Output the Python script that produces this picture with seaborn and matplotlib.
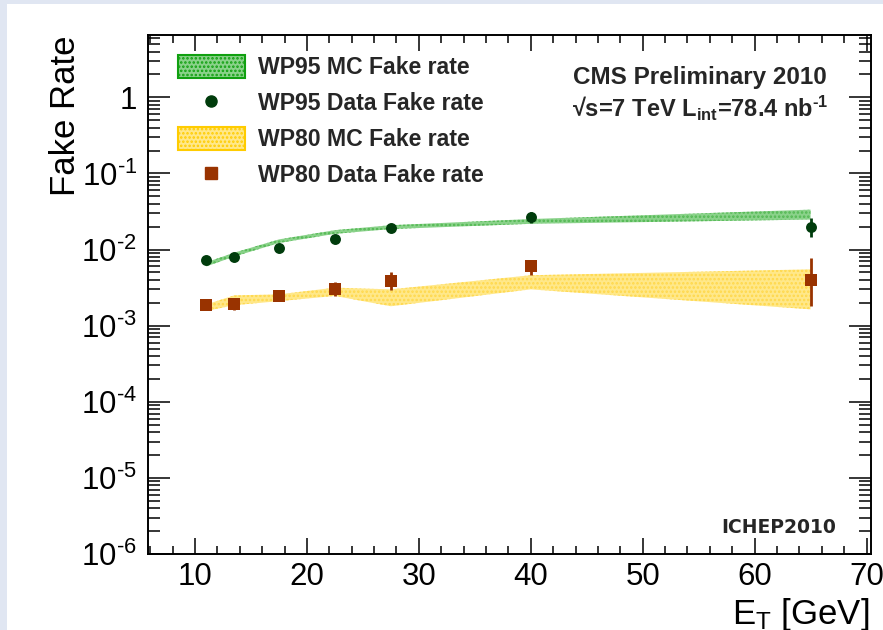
import numpy as np
import pandas as pd
import seaborn as sns
import matplotlib
matplotlib.use("Agg")
import matplotlib.pyplot as plt
from matplotlib.patches import Patch, Rectangle
from matplotlib.lines import Line2D
from matplotlib.ticker import FixedLocator, LogLocator, MultipleLocator, NullFormatter

# ---------------- data ----------------
et = [11, 13.5, 17.5, 22.5, 27.5, 40, 65]

wp95_mc_lo = [0.0060, 0.0081, 0.0122, 0.0161, 0.0186, 0.0218, 0.0248]
wp95_mc_hi = [0.0068, 0.0091, 0.0136, 0.0180, 0.0209, 0.0252, 0.0335]

wp95_data = [0.0072, 0.0080, 0.0104, 0.0136, 0.0192, 0.0270, 0.0198]
wp95_data_lo = [0.0068, 0.0076, 0.0099, 0.0129, 0.0183, 0.0224, 0.0145]
wp95_data_hi = [0.0076, 0.0084, 0.0109, 0.0143, 0.0201, 0.0316, 0.0263]

wp80_mc_lo = [0.00156, 0.00186, 0.00210, 0.00246, 0.00180, 0.00300, 0.00164]
wp80_mc_hi = [0.00190, 0.00250, 0.00258, 0.00316, 0.00300, 0.00460, 0.00550]

wp80_data = [0.00185, 0.00195, 0.00243, 0.00300, 0.00390, 0.00600, 0.00400]
wp80_data_lo = [0.00172, 0.00162, 0.00225, 0.00246, 0.00295, 0.00468, 0.00182]
wp80_data_hi = [0.00198, 0.00234, 0.00262, 0.00372, 0.00500, 0.00724, 0.00780]

ytick_vals = [1e-6, 1e-5, 1e-4, 1e-3, 1e-2, 1e-1, 1]
ytick_labels = ["10$^{\u2010\\mathrm{6}}$", "10$^{\u2010\\mathrm{5}}$", "10$^{\u2010\\mathrm{4}}$",
                "10$^{\u2010\\mathrm{3}}$", "10$^{\u2010\\mathrm{2}}$", "10$^{\u2010\\mathrm{1}}$", "1"]
xtick_vals = [10, 20, 30, 40, 50, 60, 70]

legend_labels = ["WP95 MC Fake rate", "WP95 Data Fake rate",
                 "WP80 MC Fake rate", "WP80 Data Fake rate"]

# ---------------- style ----------------
sns.set_theme(style="ticks")
plt.rcParams["font.family"] = ["Liberation Sans", "DejaVu Sans"]
plt.rcParams["mathtext.fontset"] = "custom"
plt.rcParams["mathtext.rm"] = "Liberation Sans"
plt.rcParams["mathtext.it"] = "Liberation Sans:italic"
plt.rcParams["mathtext.bf"] = "Liberation Sans:bold"
plt.rcParams["mathtext.sf"] = "Liberation Sans"
plt.rcParams["mathtext.default"] = "regular"
plt.rcParams["hatch.linewidth"] = 1.2

W, H = 883, 630
fig = plt.figure(figsize=(W / 100, H / 100), dpi=100, facecolor="#e0e6f2")
fig.patches.append(Rectangle((7 / W, 0), 1, 1 - 4 / H, transform=fig.transFigure,
                             facecolor="white", edgecolor="none", zorder=-10))

L, R, T, B = 148, 871, 35, 554
ax = fig.add_axes([L / W, 1 - B / H, (R - L) / W, (B - T) / H])
ax.set_facecolor("white")

green_fill, green_hatch, green_edge = "#8ad28a", "#52b852", "#10a010"
yellow_fill, yellow_hatch, yellow_edge = "#ffe88a", "#ffd84a", "#ffcc00"
dgreen = "#003c0c"
brown = "#993300"

# MC bands
ax.fill_between(et, wp95_mc_lo, wp95_mc_hi, facecolor=green_fill, edgecolor=green_hatch,
                hatch="....", linewidth=0, zorder=2)
ax.fill_between(et, wp80_mc_lo, wp80_mc_hi, facecolor=yellow_fill, edgecolor=yellow_hatch,
                hatch="....", linewidth=0, zorder=2)

# data
df95 = pd.DataFrame({"et": et, "rate": wp95_data, "lo": wp95_data_lo, "hi": wp95_data_hi})
df80 = pd.DataFrame({"et": et, "rate": wp80_data, "lo": wp80_data_lo, "hi": wp80_data_hi})

ax.errorbar(df95["et"], df95["rate"], yerr=[df95["rate"] - df95["lo"], df95["hi"] - df95["rate"]],
            fmt="none", ecolor=dgreen, elinewidth=2, capsize=0, zorder=3)
ax.errorbar(df80["et"], df80["rate"], yerr=[df80["rate"] - df80["lo"], df80["hi"] - df80["rate"]],
            fmt="none", ecolor=brown, elinewidth=2, capsize=0, zorder=3)
sns.scatterplot(data=df95, x="et", y="rate", marker="o", s=62, color=dgreen,
                edgecolor=dgreen, linewidth=0, ax=ax, legend=False, zorder=4)
sns.scatterplot(data=df80, x="et", y="rate", marker="s", s=66, color=brown,
                edgecolor=brown, linewidth=0, ax=ax, legend=False, zorder=4)

# axes
ax.set_yscale("log")
ax.set_xlim(5.8, 70.4)
ax.set_ylim(1e-6, 6.6)
ax.yaxis.set_major_locator(FixedLocator(ytick_vals))
ax.set_yticklabels(ytick_labels)
ax.yaxis.set_minor_locator(LogLocator(base=10, subs=np.arange(2, 10), numticks=30))
ax.yaxis.set_minor_formatter(NullFormatter())
ax.xaxis.set_major_locator(FixedLocator(xtick_vals))
ax.xaxis.set_minor_locator(MultipleLocator(2))

for s in ax.spines.values():
    s.set_color("black")
    s.set_linewidth(1.4)

ax.tick_params(axis="both", which="both", direction="in", top=True, right=True,
               colors="black", width=1.1)
ax.tick_params(axis="y", which="major", length=15.5, labelsize=22.5, pad=8)
ax.tick_params(axis="y", which="minor", length=8.5)
ax.tick_params(axis="x", which="major", length=11.5, labelsize=22.5, pad=6)
ax.tick_params(axis="x", which="minor", length=5.8)

ax.set_ylabel("Fake Rate", fontsize=25, loc="top", color="black")
ax.yaxis.set_label_coords((82 - L) / (R - L), 1.0)
ax.set_xlabel(r"E$_{\mathrm{T}}$ [GeV]", fontsize=25, loc="right", color="black")
ax.xaxis.set_label_coords((869 - L) / (R - L), -(596 - B) / (B - T))

# legend
handles = [
    Patch(facecolor=green_fill, edgecolor=green_edge, hatch="....", linewidth=1.5),
    Line2D([], [], marker="o", linestyle="none", color=dgreen, markersize=8),
    Patch(facecolor=yellow_fill, edgecolor=yellow_edge, hatch="....", linewidth=1.5),
    Line2D([], [], marker="s", linestyle="none", color=brown, markersize=8),
]
leg = ax.legend(handles, legend_labels, loc="upper left",
                bbox_to_anchor=(178 / W, 1 - 55 / H), bbox_transform=fig.transFigure,
                frameon=False, prop={"weight": "bold", "size": 16.6},
                handlelength=2.9, handleheight=1.13, handletextpad=0.56,
                labelspacing=0.52, borderpad=0, borderaxespad=0)

# annotations
fig.text(700 / W, 1 - 84 / H, "CMS Preliminary 2010", ha="center", va="baseline",
         fontsize=17.5, fontweight="bold")
fig.text(700 / W, 1 - 117 / H,
         "\u221As=7 TeV L$_{\\mathbf{int}}$=78.4 nb$^{\\mathbf{\u20101}}$",
         ha="center", va="baseline", fontsize=17, fontweight="bold")
fig.text(779 / W, 1 - 533 / H, "ICHEP2010", ha="center", va="baseline",
         fontsize=13.5, fontweight="bold", family=["DejaVu Sans"])

fig.savefig("out.png", dpi=100, facecolor=fig.get_facecolor())
